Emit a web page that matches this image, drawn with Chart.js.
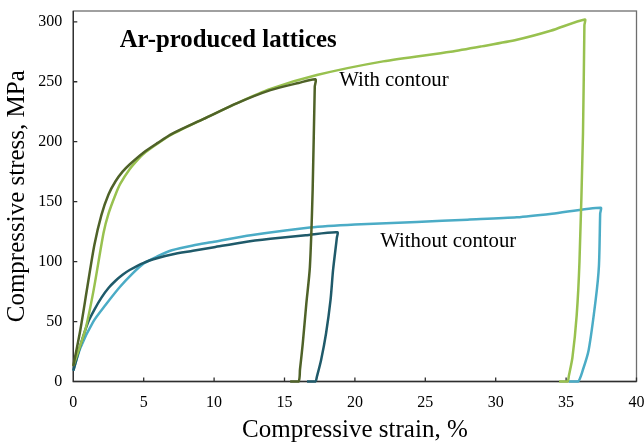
<!DOCTYPE html>
<html>
<head>
<meta charset="utf-8">
<script src="https://cdn.jsdelivr.net/npm/chart.js@4/dist/chart.umd.min.js"></script>
<style>
    html, body { margin: 0; padding: 0; background: #ffffff; }
</style>
</head>
<body>
<canvas id="stressChart" width="644" height="445"></canvas>
<script>
// with contour, short sample (dark green)
const withShortStrain = [0, 0.5, 1.0, 1.5, 2.0, 2.5, 3.0, 3.5, 4.0, 5.0, 6.0, 7.0, 9.26, 11.6, 14, 16, 17.2, 17.15, 17.0, 16.8, 16.55, 16.3, 16.1, 16.0, 15.4];
const withShortStress = [13, 43, 79, 114, 139, 156, 167, 175, 181, 191, 199, 206.5, 219, 232, 243, 249, 252, 246, 160, 95, 65, 32, 10, 0, 0];
// with contour, long sample (light green)
const withLongStrain = [0, 0.85, 1.44, 2.15, 2.5, 3.0, 3.34, 4.0, 4.5, 5.0, 6.0, 7.0, 9.26, 11.6, 14, 17.3, 22, 26.8, 29, 31.5, 33.9, 36.33, 36.3, 36.2, 35.95, 35.75, 35.45, 35.2, 35.1, 34.5];
const withLongStress = [13, 43, 76, 124, 140, 156, 165, 177, 184, 190, 198.5, 206, 219, 232, 244, 255.6, 267, 275, 279.5, 285, 292.5, 302, 297, 207, 100, 55, 20, 5, 0, 0];
// without contour, short sample (dark teal)
const withoutShortStrain = [0, 0.5, 1.07, 1.5, 2.0, 2.5, 3.0, 3.5, 4.0, 5, 6, 7, 8.5, 10, 12, 14, 16.5, 18.75, 18.72, 18.45, 18.27, 17.95, 17.6, 17.3, 17.2, 16.6];
const withoutShortStress = [9, 30, 50, 60, 70, 78, 84, 89, 93, 99, 103, 106, 109, 112, 116, 119, 122, 124.5, 120, 93, 68, 40, 18, 4, 0, 0];
// without contour, long sample (light blue)
const withoutLongStrain = [0, 0.5, 1.42, 2.3, 3.32, 4.2, 5, 6, 7, 8.5, 10, 12.6, 16.8, 20, 24.4, 28, 31.5, 34, 37.45, 37.42, 37.33, 37.1, 36.6, 36.2, 35.85, 35.2];
const withoutLongStress = [9, 28, 50, 64, 79, 90, 98.5, 104.5, 109.5, 113.5, 116.5, 122, 128.5, 131, 133, 135, 137, 140, 145, 140, 96, 68, 26, 10, 0, 0];

const xTicks = [0, 5, 10, 15, 20, 25, 30, 35, 40];
const yTicks = [0, 50, 100, 150, 200, 250, 300];

function toPoints(xs, ys) {
    return xs.map((x, i) => ({ x: x, y: ys[i] }));
}

function line(label, xs, ys, color) {
    return {
        label: label,
        data: toPoints(xs, ys),
        showLine: true,
        borderColor: color,
        backgroundColor: color,
        borderWidth: 2.5,
        pointRadius: 0,
        tension: 0.25,
        clip: 6
    };
}

// frame round the plot, inward tick marks and the text labels
const framePlugin = {
    id: "frame",
    beforeDatasetsDraw(chart) {
        const { ctx, chartArea: a, scales } = chart;
        ctx.save();
        ctx.lineWidth = 1.3;
        ctx.strokeStyle = "#6e6e6e";
        ctx.strokeRect(a.left, a.top, a.right - a.left, a.bottom - a.top);
        ctx.strokeStyle = "#2e2e2e";
        ctx.beginPath();
        ctx.moveTo(a.left, a.top);
        ctx.lineTo(a.left, a.bottom);
        ctx.lineTo(a.right, a.bottom);
        xTicks.forEach(v => {
            const px = scales.x.getPixelForValue(v);
            ctx.moveTo(px, a.bottom);
            ctx.lineTo(px, a.bottom - 4);
        });
        yTicks.forEach(v => {
            const py = scales.y.getPixelForValue(v);
            ctx.moveTo(a.left, py);
            ctx.lineTo(a.left + 4, py);
        });
        ctx.stroke();
        ctx.restore();
    },
    afterDraw(chart) {
        const { ctx, scales } = chart;
        ctx.save();
        ctx.fillStyle = "#000000";
        ctx.textBaseline = "middle";
        ctx.textAlign = "center";
        ctx.font = "bold 24.8px 'Liberation Serif'";
        ctx.fillText("Ar-produced lattices", scales.x.getPixelForValue(11.0), scales.y.getPixelForValue(284.5));
        ctx.textAlign = "left";
        ctx.font = "20.8px 'Liberation Serif'";
        ctx.fillText("With contour", scales.x.getPixelForValue(18.88), scales.y.getPixelForValue(251));
        ctx.fillText("Without contour", scales.x.getPixelForValue(21.8), scales.y.getPixelForValue(117));
        ctx.restore();
    }
};

new Chart("stressChart", {
    type: "scatter",
    data: {
        datasets: [
            line("With contour (short)", withShortStrain, withShortStress, "#4F6228"),
            line("With contour (long)", withLongStrain, withLongStress, "#98C14F"),
            line("Without contour (short)", withoutShortStrain, withoutShortStress, "#1F5A6A"),
            line("Without contour (long)", withoutLongStrain, withoutLongStress, "#4BACC6")
        ]
    },
    options: {
        responsive: false,
        animation: false,
        layout: { padding: { top: 11, right: 7.5, left: 0, bottom: 0 } },
        plugins: {
            legend: { display: false },
            tooltip: { enabled: false }
        },
        scales: {
            x: {
                type: "linear",
                min: 0,
                max: 40,
                grid: { display: false, drawTicks: false },
                border: { display: false },
                ticks: {
                    stepSize: 5,
                    padding: 12,
                    color: "#000000",
                    font: { family: "'Liberation Serif'", size: 16 },
                    maxRotation: 0
                },
                title: {
                    display: true,
                    text: "Compressive strain, %",
                    color: "#000000",
                    font: { family: "'Liberation Serif'", size: 25, lineHeight: 1.2 },
                    padding: { top: 0, bottom: 0 }
                },
                afterFit(scale) {
                    scale.height = 63.5;
                    scale.paddingLeft = 0;
                    scale.paddingRight = 0;
                }
            },
            y: {
                type: "linear",
                min: 0,
                max: 309,
                grid: { display: false, drawTicks: false },
                border: { display: false },
                afterBuildTicks(scale) {
                    scale.ticks = yTicks.map(v => ({ value: v }));
                },
                ticks: {
                    stepSize: 50,
                    padding: 11,
                    color: "#000000",
                    font: { family: "'Liberation Serif'", size: 16 }
                },
                title: {
                    display: true,
                    text: "Compressive stress, MPa",
                    color: "#000000",
                    font: { family: "'Liberation Serif'", size: 25, lineHeight: 1.2 },
                    padding: { top: 2, bottom: 0 }
                },
                afterFit(scale) {
                    scale.width = 73.3;
                    scale.paddingTop = 0;
                    scale.paddingBottom = 0;
                }
            }
        }
    },
    plugins: [framePlugin]
});
</script>
</body>
</html>
